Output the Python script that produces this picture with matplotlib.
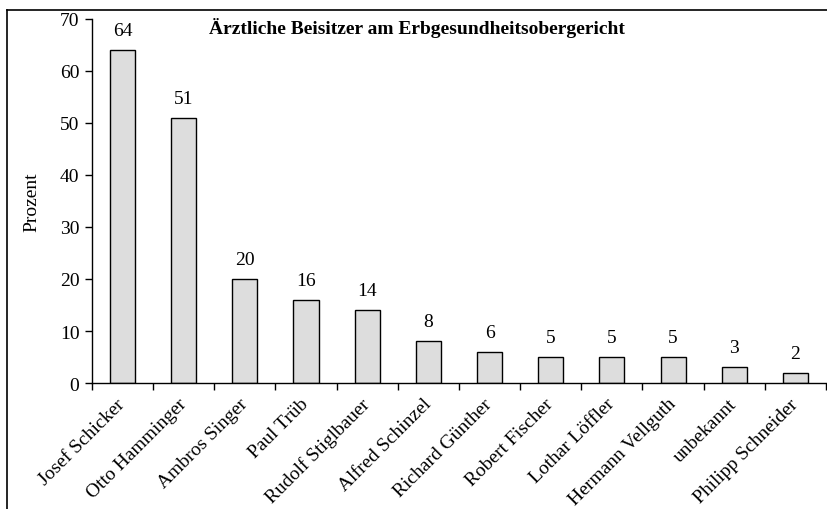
import numpy as np
import matplotlib.pyplot as plt

plt.rcParams['font.family'] = ['Liberation Serif', 'DejaVu Serif']

# data
names = ['Josef Schicker', 'Otto Hamminger', 'Ambros Singer', 'Paul Trüb',
         'Rudolf Stiglbauer', 'Alfred Schinzel', 'Richard Günther',
         'Robert Fischer', 'Lothar Löffler', 'Hermann Vellguth',
         'unbekannt', 'Philipp Schneider']
values = [64, 51, 20, 16, 14, 8, 6, 5, 5, 5, 3, 2]
yticks = [0, 10, 20, 30, 40, 50, 60, 70]

fig = plt.figure(figsize=(8.28, 5.10), dpi=100)
ax = fig.add_axes([0.111, 0.247, 0.8866, 0.714])

x = np.arange(len(names))
bars = ax.bar(x, values, width=0.41, color='#dddddd', edgecolor='black', linewidth=1.0)

for xi, v in zip(x, values):
    ax.annotate(str(v), (xi, v), xytext=(0, 8), textcoords='offset points',
                ha='center', va='bottom', fontsize=14)

ax.set_xlim(-0.5, len(names) - 0.5)
ax.set_ylim(0, 70)
ax.set_yticks(yticks)
ax.tick_params(axis='y', labelsize=14, length=5, width=1, direction='out', pad=4)

# category labels at bar centres, tick marks at category boundaries
ax.set_xticks(x)
ax.set_xticklabels(names, rotation=45, ha='right', va='center',
                   rotation_mode='anchor', fontsize=14)
ax.set_xticks(np.arange(len(names) + 1) - 0.5, minor=True)
ax.tick_params(axis='x', which='major', length=0, pad=13)
ax.tick_params(axis='x', which='minor', length=5, width=1, direction='out')

for s in ['top', 'right']:
    ax.spines[s].set_visible(False)
for s in ['left', 'bottom']:
    ax.spines[s].set_linewidth(1)

ax.set_ylabel('Prozent', fontsize=14, labelpad=14)

fig.text(0.504, 0.945, 'Ärztliche Beisitzer am Erbgesundheitsobergericht',
         ha='center', va='center', fontsize=14, fontweight='bold')

# chart area border (cropped at right and bottom)
fig.add_artist(plt.Line2D([7 / 828, 7 / 828], [0, 1 - 11 / 510], color='black', lw=1.2,
                          transform=fig.transFigure))
fig.add_artist(plt.Line2D([7 / 828, 1], [1 - 11 / 510, 1 - 11 / 510], color='black', lw=1.2,
                          transform=fig.transFigure))

fig.savefig('out.png', dpi=100)
